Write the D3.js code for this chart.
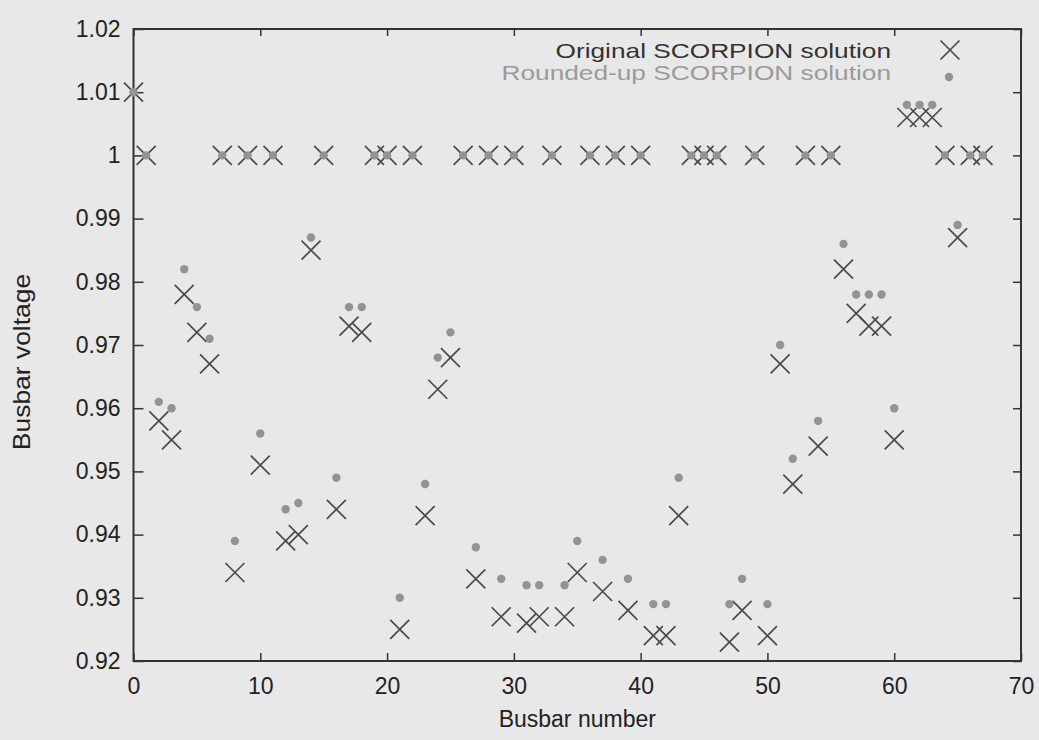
<!DOCTYPE html>
<html>
<head>
<meta charset="utf-8">
<script src="https://cdn.jsdelivr.net/npm/d3@7"></script>
<style>
    body { margin: 0; background: #e8e8e8; }
    svg { display: block; }
</style>
</head>
<body>
<div id="chart"></div>
<script>
// busbar numbers 0..67
const busbars = d3.range(0, 68);

// voltages
const originalSolution = [
    1.010, 1.000, 0.958, 0.955, 0.978, 0.972, 0.967, 1.000, 0.934, 1.000,
    0.951, 1.000, 0.939, 0.940, 0.985, 1.000, 0.944, 0.973, 0.972, 1.000,
    1.000, 0.925, 1.000, 0.943, 0.963, 0.968, 1.000, 0.933, 1.000, 0.927,
    1.000, 0.926, 0.927, 1.000, 0.927, 0.934, 1.000, 0.931, 1.000, 0.928,
    1.000, 0.924, 0.924, 0.943, 1.000, 1.000, 1.000, 0.923, 0.928, 1.000,
    0.924, 0.967, 0.948, 1.000, 0.954, 1.000, 0.982, 0.975, 0.973, 0.973,
    0.955, 1.006, 1.006, 1.006, 1.000, 0.987, 1.000, 1.000
];

const roundedSolution = [
    1.010, 1.000, 0.961, 0.960, 0.982, 0.976, 0.971, 1.000, 0.939, 1.000,
    0.956, 1.000, 0.944, 0.945, 0.987, 1.000, 0.949, 0.976, 0.976, 1.000,
    1.000, 0.930, 1.000, 0.948, 0.968, 0.972, 1.000, 0.938, 1.000, 0.933,
    1.000, 0.932, 0.932, 1.000, 0.932, 0.939, 1.000, 0.936, 1.000, 0.933,
    1.000, 0.929, 0.929, 0.949, 1.000, 1.000, 1.000, 0.929, 0.933, 1.000,
    0.929, 0.970, 0.952, 1.000, 0.958, 1.000, 0.986, 0.978, 0.978, 0.978,
    0.960, 1.008, 1.008, 1.008, 1.000, 0.989, 1.000, 1.000
];

const xTicks = [0, 10, 20, 30, 40, 50, 60, 70];
const yTicks = [0.92, 0.93, 0.94, 0.95, 0.96, 0.97, 0.98, 0.99, 1.00, 1.01, 1.02];
const seriesNames = ["Original SCORPION solution", "Rounded-up SCORPION solution"];

function drawChart() {
    const width = 1039, height = 740;
    const margin = { top: 29, right: 18, bottom: 79, left: 133.5 };
    const font = "'Liberation Sans', Arial, Helvetica, sans-serif";

    const svg = d3.select("#chart")
        .append("svg")
        .attr("width", width)
        .attr("height", height);

    svg.append("rect")
        .attr("width", width)
        .attr("height", height)
        .attr("fill", "#e8e8e8");

    const x = d3.scaleLinear()
        .domain([0, 70])
        .range([margin.left, width - margin.right]);

    const y = d3.scaleLinear()
        .domain([0.92, 1.02])
        .range([height - margin.bottom, margin.top]);

    const fmtY = d => d3.format(".2f")(d).replace(/\.?0+$/, "");

    // bottom axis, ticks pointing inward
    svg.append("g")
        .attr("transform", `translate(0,${y(0.92)})`)
        .call(d3.axisBottom(x).tickValues(xTicks).tickSize(-8).tickPadding(17))
        .call(g => g.select(".domain").remove())
        .attr("font-size", 23)
        .attr("font-family", font)
        .call(g => g.selectAll("text").attr("fill", "#222"))
        .call(g => g.selectAll("line").attr("stroke", "#333").attr("stroke-width", 1.5));

    // left axis
    svg.append("g")
        .attr("transform", `translate(${x(0)},0)`)
        .call(d3.axisLeft(y).tickValues(yTicks).tickSize(-10).tickPadding(13).tickFormat(fmtY))
        .call(g => g.select(".domain").remove())
        .attr("font-size", 23)
        .attr("font-family", font)
        .call(g => g.selectAll("text").attr("fill", "#222"))
        .call(g => g.selectAll("line").attr("stroke", "#333").attr("stroke-width", 1.5));

    // top and right mirror ticks
    svg.append("g")
        .attr("transform", `translate(0,${y(1.02)})`)
        .call(d3.axisTop(x).tickValues(xTicks).tickSize(-7).tickFormat(""))
        .call(g => g.select(".domain").remove())
        .call(g => g.selectAll("line").attr("stroke", "#333").attr("stroke-width", 1.5));

    svg.append("g")
        .attr("transform", `translate(${x(70)},0)`)
        .call(d3.axisRight(y).tickValues(yTicks).tickSize(-8).tickFormat(""))
        .call(g => g.select(".domain").remove())
        .call(g => g.selectAll("line").attr("stroke", "#333").attr("stroke-width", 1.5));

    // frame
    svg.append("rect")
        .attr("x", x(0))
        .attr("y", y(1.02))
        .attr("width", x(70) - x(0))
        .attr("height", y(0.92) - y(1.02))
        .attr("fill", "none")
        .attr("stroke", "#333")
        .attr("stroke-width", 2);

    // axis titles
    svg.append("text")
        .attr("x", (x(0) + x(70)) / 2)
        .attr("y", 727)
        .attr("text-anchor", "middle")
        .attr("font-family", font)
        .attr("font-size", 23)
        .attr("fill", "#222")
        .text("Busbar number");

    svg.append("text")
        .attr("transform", `translate(30,362) rotate(-90) scale(1.15,1)`)
        .attr("text-anchor", "middle")
        .attr("font-family", font)
        .attr("font-size", 23)
        .attr("fill", "#222")
        .text("Busbar voltage");

    const cross = 9.5;
    const crossPath = (cx, cy) =>
        `M${cx - cross},${cy - cross}L${cx + cross},${cy + cross}M${cx - cross},${cy + cross}L${cx + cross},${cy - cross}`;

    // original solution (crosses)
    svg.append("g")
        .selectAll("path")
        .data(busbars)
        .join("path")
        .attr("d", i => crossPath(x(busbars[i]), y(originalSolution[i])))
        .attr("stroke", "#4a4a4a")
        .attr("stroke-width", 1.7)
        .attr("fill", "none");

    // rounded-up solution (small dots)
    svg.append("g")
        .selectAll("circle")
        .data(busbars)
        .join("circle")
        .attr("cx", i => x(busbars[i]))
        .attr("cy", i => y(roundedSolution[i]))
        .attr("r", 4.2)
        .attr("fill", "#939393");

    // legend
    const legend = svg.append("g");
    legend.append("text")
        .attr("transform", "translate(891,58) scale(1.25,1)")
        .attr("text-anchor", "end")
        .attr("font-family", font)
        .attr("font-size", 21)
        .attr("fill", "#333")
        .text(seriesNames[0]);
    legend.append("text")
        .attr("transform", "translate(891,80) scale(1.25,1)")
        .attr("text-anchor", "end")
        .attr("font-family", font)
        .attr("font-size", 21)
        .attr("fill", "#9a9a9a")
        .text(seriesNames[1]);
    legend.append("path")
        .attr("d", crossPath(950, 50))
        .attr("stroke", "#4a4a4a")
        .attr("stroke-width", 1.7)
        .attr("fill", "none");
    legend.append("circle")
        .attr("cx", 949)
        .attr("cy", 77)
        .attr("r", 4.2)
        .attr("fill", "#939393");
}

drawChart();
</script>
</body>
</html>
